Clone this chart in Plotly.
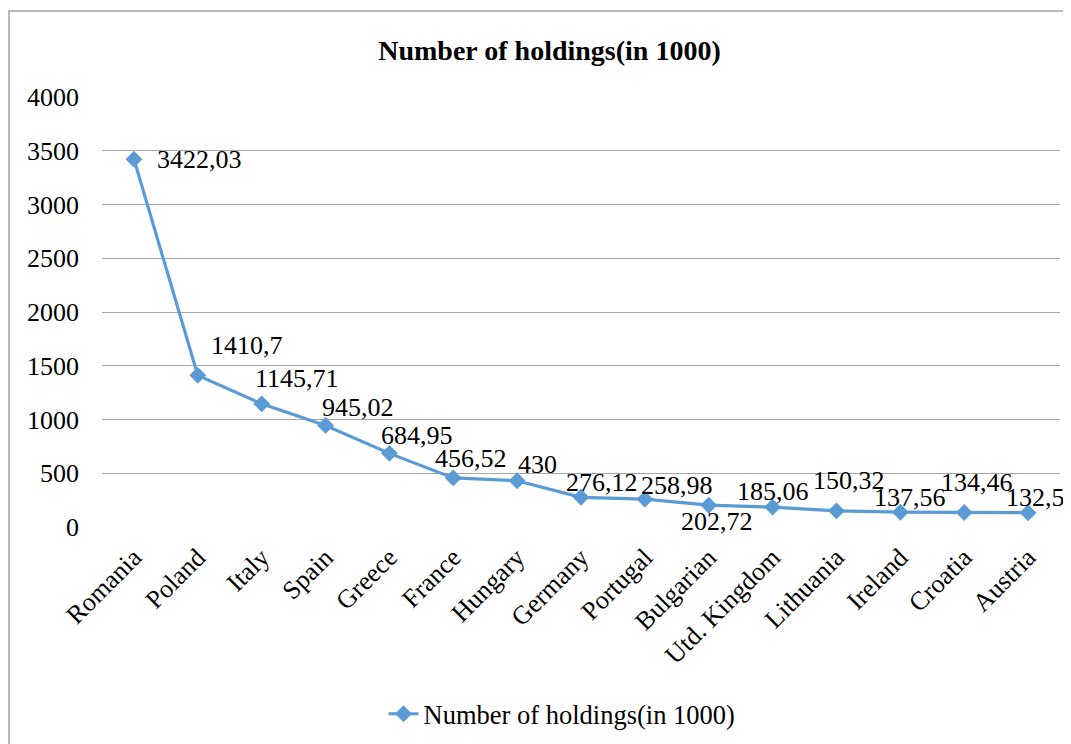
import plotly.graph_objects as go

countries = ["Romania", "Poland", "Italy", "Spain", "Greece", "France", "Hungary",
             "Germany", "Portugal", "Bulgarian", "Utd. Kingdom", "Lithuania",
             "Ireland", "Croatia", "Austria"]
holdings = [3422.03, 1410.7, 1145.71, 945.02, 684.95, 456.52, 430,
            276.12, 258.98, 202.72, 185.06, 150.32, 137.56, 134.46, 132.5]
y_ticks = [0, 500, 1000, 1500, 2000, 2500, 3000, 3500, 4000]

# label offsets in pixels (style only): (dx, dy) with dy positive = up
label_dx = [66, 49, 35, 32, 28, 18, 20, 21, 32, 8, 0, 13, 10, 13, 7]
label_dy = [0, 30, 25, 18, 18, 19, 16, 15, 14, -16, 16, 30, 15, 30, 15]

FONT = "Liberation Serif"
LINE = "#5B9BD5"
OFF = 8  # page body margin

W, H = 1071 - OFF, 744 - OFF
L, T = 102 - OFF, 97 - OFF
R, B = 11, 217
PW = W - L - R
PH = H - T - B

fig = go.Figure()
fig.add_trace(go.Scatter(
    x=countries, y=holdings, mode="lines+markers",
    name="Number of holdings(in 1000)",
    line=dict(color=LINE, width=3.2),
    marker=dict(symbol="diamond", size=13, color=LINE),
))

def fmt(v):
    return f"{v:g}".replace(".", ",")

annotations = []
for c, v, dx, dy in zip(countries, holdings, label_dx, label_dy):
    annotations.append(dict(
        x=c, y=v, xref="x", yref="y", text=fmt(v), showarrow=False,
        xshift=dx, yshift=dy, xanchor="center", yanchor="middle",
        font=dict(family=FONT, size=26, color="#000000"),
    ))

fig.update_layout(
    width=W, height=H,
    margin=dict(l=L, r=R, t=T, b=B, pad=0, autoexpand=False),
    paper_bgcolor="white", plot_bgcolor="white",
    font=dict(family=FONT, size=26, color="#000000"),
    title=dict(text="<b>Number of holdings(in 1000)</b>", x=(549.5 - OFF) / W, xanchor="center",
               y=1 - (50 - OFF) / H, yanchor="middle", xref="container", yref="container",
               font=dict(family=FONT, size=28, color="#000000")),
    showlegend=True,
    legend=dict(orientation="h", x=(562 - 102) / PW, xanchor="center",
                y=(527 - 714) / PH, yanchor="middle",
                font=dict(family=FONT, size=26.5, color="#000000"),
                bgcolor="rgba(0,0,0,0)"),
    annotations=annotations,
    shapes=[dict(type="rect", xref="paper", yref="paper",
                 x0=(9 - 102) / PW, x1=1.2, y0=-1.0, y1=(527 - 11) / PH,
                 line=dict(color="#A0A0A0", width=1.5), fillcolor="rgba(0,0,0,0)",
                 layer="below")],
)
fig.update_xaxes(
    type="category", range=[-0.5, len(countries) - 0.5], tickangle=-45,
    showgrid=False, showline=False, ticks="", ticklabelstandoff=9,
    tickfont=dict(family=FONT, size=26, color="#000000"), zeroline=False,
    automargin=False,
)
fig.update_yaxes(
    range=[0, 4000], tickvals=y_ticks, showgrid=True, gridcolor="#A6A6A6", gridwidth=1,
    zeroline=False, showline=False, ticks="", ticklabelstandoff=22,
    tickfont=dict(family=FONT, size=26, color="#000000"), automargin=False,
)

fig.write_html("out.html")
